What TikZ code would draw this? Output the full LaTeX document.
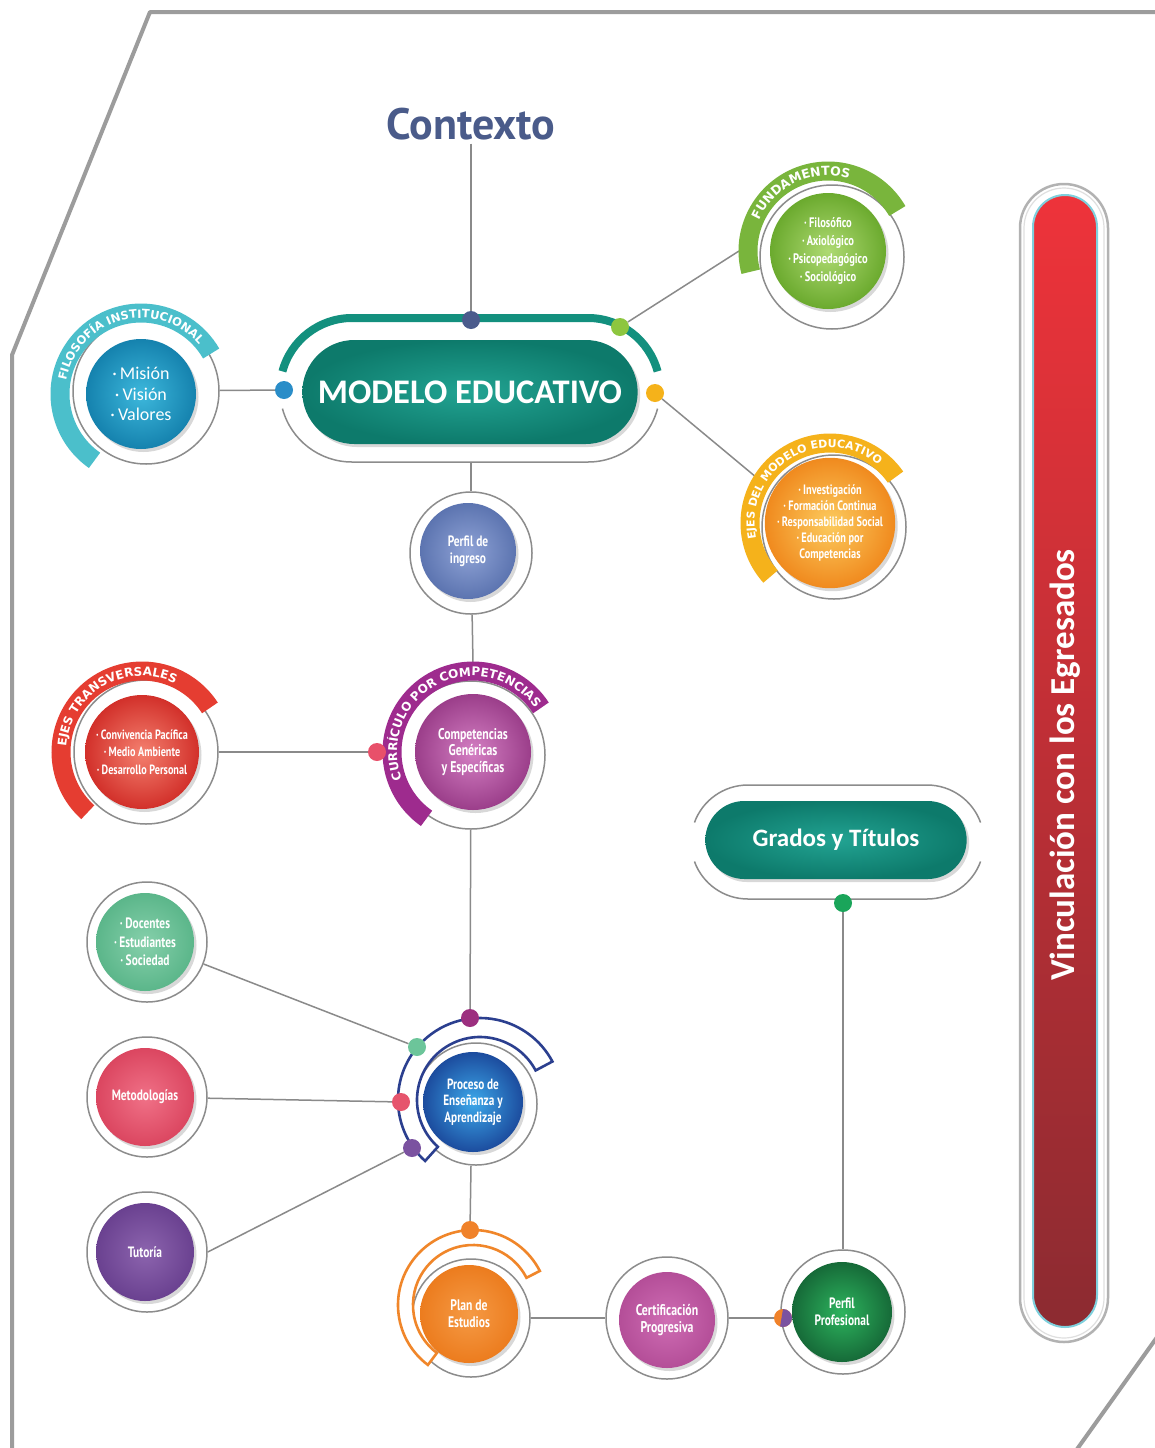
\documentclass[tikz,border=0pt]{standalone}
\usepackage{fontspec}
\setmainfont{PT Sans}
\newfontfamily\cnd[FakeStretch=0.76]{PT Sans}
\newfontfamily\calfont{Carlito}
\newfontfamily\bandfont{DejaVu Sans}
\usetikzlibrary{shapes.misc,shadows,decorations.text,backgrounds}
\newcommand\bndA{\bandfont\bfseries\fontsize{11.5}{11.5}\selectfont}
\newcommand\bndB{\bandfont\bfseries\fontsize{12.5}{12.5}\selectfont}
\newcommand\bndC{\bandfont\bfseries\fontsize{11}{11}\selectfont}
\newcommand\bndD{\bandfont\bfseries\fontsize{12}{12}\selectfont}
\definecolor{framegray}{HTML}{9C9C9C}
\definecolor{conngray}{HTML}{8A8A8A}
\definecolor{ringgray}{HTML}{8C8C8C}
\definecolor{ctxblue}{HTML}{4A5B8A}
\definecolor{tealL}{HTML}{22A392}
\definecolor{tealD}{HTML}{0D7A6B}
\definecolor{tealBand}{HTML}{13907E}
\definecolor{filL}{HTML}{3DB8DC}
\definecolor{filD}{HTML}{1582AE}
\definecolor{filBand}{HTML}{4BBFCB}
\definecolor{funLc}{HTML}{AEDA72}
\definecolor{funDc}{HTML}{6BAA2E}
\definecolor{funBand}{HTML}{79B53C}
\definecolor{ejeLc}{HTML}{FCCB5E}
\definecolor{ejeDc}{HTML}{F08A1E}
\definecolor{ejeBand}{HTML}{F5B21B}
\definecolor{ingLc}{HTML}{8FA3D6}
\definecolor{ingDc}{HTML}{5C74B0}
\definecolor{curLc}{HTML}{D47FC3}
\definecolor{curDc}{HTML}{9B3E8A}
\definecolor{curBand}{HTML}{9E2B8E}
\definecolor{etrLc}{HTML}{F4806F}
\definecolor{etrDc}{HTML}{D2302A}
\definecolor{etrBand}{HTML}{E53D31}
\definecolor{docLc}{HTML}{86D0AB}
\definecolor{docDc}{HTML}{5BB68A}
\definecolor{metLc}{HTML}{F07187}
\definecolor{metDc}{HTML}{DB4660}
\definecolor{tutLc}{HTML}{8C64AE}
\definecolor{tutDc}{HTML}{6A4190}
\definecolor{proLc}{HTML}{3CA8EA}
\definecolor{proDc}{HTML}{1C4C9E}
\definecolor{proBand}{HTML}{2B3F8F}
\definecolor{plaLc}{HTML}{F59A45}
\definecolor{plaDc}{HTML}{EC7C1E}
\definecolor{plaBand}{HTML}{F0862A}
\definecolor{cerLc}{HTML}{CF6DB4}
\definecolor{cerDc}{HTML}{B44E98}
\definecolor{ppLc}{HTML}{2DB45E}
\definecolor{ppDc}{HTML}{166A38}
\definecolor{barTop}{HTML}{EE333A}
\definecolor{barBot}{HTML}{8C2B31}
\definecolor{barEdge}{HTML}{7FD0DD}
\definecolor{dNavy}{HTML}{4B5B8C}
\definecolor{dLime}{HTML}{8DC63F}
\definecolor{dBlue}{HTML}{2A8DC8}
\definecolor{dGold}{HTML}{F5B21A}
\definecolor{dPink}{HTML}{E8506A}
\definecolor{dMag}{HTML}{9C2F7F}
\definecolor{dMint}{HTML}{6CC59A}
\definecolor{dRose}{HTML}{E6556D}
\definecolor{dViol}{HTML}{7B52A0}
\definecolor{dOrg}{HTML}{F0822A}
\definecolor{dGreen}{HTML}{1AA55A}
\begin{document}
\begin{tikzpicture}[x=1pt,y=1pt,
  ring/.style={circle, draw=ringgray, line width=1.5, minimum size=#1, inner sep=0pt},
  shd/.style={drop shadow={opacity=0.3, shadow xshift=2.5pt, shadow yshift=-3pt}},
  disc/.style={circle, minimum size=#1, inner sep=0pt, text=white, align=center, shd},
  dot/.style={circle, fill=#1, minimum size=18, inner sep=0pt},
  conn/.style={draw=conngray, line width=1.5},
  band/.style={line width=19, draw=#1},
  outband/.style={draw=#1, line width=2.6, fill=white},
  lbl/.style={decorate, decoration={text along path, text={#1}, text align=center, text color=white}},
  small/.style={font=\cnd\bfseries\fontsize{15}{17}\selectfont},
  smallb/.style={font=\cnd\bfseries\fontsize{14.8}{16.5}\selectfont},
  pill/.style={rounded rectangle, inner color=tealL, outer color=tealD, text=white, shd},
]
\useasboundingbox (0,0) rectangle (1155,-1448);
\begin{pgfonlayer}{background}
\fill[white] (0,0) rectangle (1155,-1448);
\end{pgfonlayer}
% frame
\draw[framegray, line width=4, line join=round] (1160,-12) -- (150,-12) -- (12,-355) -- (12,-1460);
\draw[framegray, line width=4] (1160,-1333) -- (1075,-1452);

% centres
\coordinate (filC) at (141,-394);
\coordinate (funC) at (828,-251);
\coordinate (ejeC) at (830,-523);
\coordinate (curC) at (473,-752);
\coordinate (etrC) at (142,-752);
\coordinate (proC) at (480,-1100);
\coordinate (plaC) at (473,-1305);
\coordinate (mL) at (352,-390);
\coordinate (mR) at (588,-390);
\coordinate (gL) at (748,-842);
\coordinate (gR) at (927,-842);

% Contexto
\node[font=\bfseries\fontsize{44}{44}\selectfont, text=ctxblue] (ctx) at (471,-124) {Contexto};

% Modelo educativo
\draw[tealBand, line width=8] ([shift={(165:72)}]mL) arc[start angle=165,end angle=90,radius=72] -- ([shift={(90:72)}]mR) arc[start angle=90,end angle=15,radius=72];
\draw[ringgray, line width=1.5] ([shift={(195:72)}]mL) arc[start angle=195,end angle=270,radius=72] -- ([shift={(270:72)}]mR) arc[start angle=270,end angle=345,radius=72];
\node[pill, minimum width=342, minimum height=104, font=\calfont\bfseries\fontsize{34.5}{34.5}\selectfont] (mod) at (470,-392) {MODELO EDUCATIVO};
\coordinate (modB) at (471,-462);
\node[dot=dNavy] (dTop) at (471,-320) {};
\node[dot=dLime] (dLim) at (620,-327) {};
\node[dot=dBlue] (dBlu) at (284,-390) {};
\node[dot=dGold] (dGld) at (655,-393) {};

% Filosofia institucional
\node[ring=146] (filR) at (146,-391) {};
\draw[band=filBand] ([shift={(235:81)}]filC) arc[start angle=235,end angle=30,radius=81];
\path[lbl={|\bndA|FILOSOFÍA INSTITUCIONAL}] ([shift={(190:76)}]filC) arc[start angle=190,end angle=20,radius=76];
\node[disc=110, inner color=filL, outer color=filD, font=\calfont\fontsize{18}{20.5}\selectfont] (fil) at (filC) {·\,Misión\\·\,Visión\\·\,Valores};

% Fundamentos
\node[ring=144] (funR) at (832,-257) {};
\draw[band=funBand] ([shift={(195:80)}]funC) arc[start angle=195,end angle=30,radius=80];
\path[lbl={|\bndB|FUNDAMENTOS}] ([shift={(180:75.5)}]funC) arc[start angle=180,end angle=50,radius=75.5];
\node[disc=116, inner color=funLc, outer color=funDc, font=\cnd\bfseries\fontsize{13.8}{18}\selectfont] (fun) at (funC) {·\,Filosófico\\·\,Axiológico\\·\,Psicopedagógico\\·\,Sociológico};
\coordinate (funEnd) at ([shift={(180:89)}]funC);

% Ejes del modelo educativo
\node[ring=144] (ejeR) at (834,-527) {};
\draw[band=ejeBand] ([shift={(222:80)}]ejeC) arc[start angle=222,end angle=35,radius=80];
\path[lbl={|\bndC|EJES DEL MODELO EDUCATIVO}] ([shift={(210:75.5)}]ejeC) arc[start angle=210,end angle=32,radius=75.5];
\node[disc=118, inner color=ejeLc, outer color=ejeDc, font=\cnd\bfseries\fontsize{13.6}{16}\selectfont] (eje) at (ejeC) {·\,Investigación\\·\,Formación Continua\\·\,Responsabilidad Social\\·\,Educación por\\Competencias};
\coordinate (ejeEnd) at ([shift={(148:89)}]ejeC);

% Perfil de ingreso
\node[ring=122] (ingR) at (471,-553) {};
\node[disc=96, inner color=ingLc, outer color=ingDc, small] (ing) at (468,-551) {Perfil de\\ingreso};

% Curriculo por competencias
\node[ring=148] (curR) at (471,-755) {};
\draw[band=curBand] ([shift={(235:81)}]curC) arc[start angle=235,end angle=33,radius=81];
\path[lbl={|\bndD|CURRÍCULO POR COMPETENCIAS}] ([shift={(215:76)}]curC) arc[start angle=215,end angle=21,radius=76];
\node[disc=116, inner color=curLc, outer color=curDc, font=\cnd\bfseries\fontsize{15.5}{16.5}\selectfont] (cur) at (curC) {Competencias\\Genéricas\\y Específicas};
\coordinate (curTop) at ([shift={(90:89)}]curC);
\node[dot=dPink] (dPnk) at (377,-752) {};

% Ejes transversales
\node[ring=144] (etrR) at (146,-752) {};
\draw[band=etrBand] ([shift={(228:81)}]etrC) arc[start angle=228,end angle=33,radius=81];
\path[lbl={|\bndD|EJES TRANSVERSALES}] ([shift={(190:76)}]etrC) arc[start angle=190,end angle=50,radius=76];
\node[disc=114, inner color=etrLc, outer color=etrDc, font=\cnd\bfseries\fontsize{13.4}{17.5}\selectfont] (etr) at (etrC) {·\,Convivencia Pacífica\\·\,Medio Ambiente\\·\,Desarrollo Personal};

% Left column
\node[ring=120] (docR) at (147,-942) {};
\node[disc=98, inner color=docLc, outer color=docDc, font=\cnd\bfseries\fontsize{15}{18.5}\selectfont] (doc) at (145,-942) {·\,Docentes\\·\,Estudiantes\\·\,Sociedad};
\node[ring=120] (metR) at (147,-1097) {};
\node[disc=98, inner color=metLc, outer color=metDc, small] (met) at (145,-1097) {Metodologías};
\node[ring=120] (tutR) at (147,-1252) {};
\node[disc=98, inner color=tutLc, outer color=tutDc, small] (tut) at (145,-1252) {Tutoría};

% Proceso de ensenanza y aprendizaje
\node[ring=122] (proR) at (476,-1104) {};
\draw[outband=proBand] ([shift={(228:82)}]proC) arc[start angle=228,end angle=28,radius=82] -- ([shift={(28:63)}]proC) arc[start angle=28,end angle=228,radius=63] -- cycle;
\node[disc=100, inner color=proLc, outer color=proDc, smallb] (pro) at (473,-1102) {Proceso de\\Enseñanza y\\Aprendizaje};
\coordinate (proB) at (471,-1166);
\node[dot=dMag] (dMg) at (470,-1018) {};
\node[dot=dMint] (dMt) at (417,-1047) {};
\node[dot=dRose] (dRs) at (401,-1102) {};
\node[dot=dViol] (dVi) at (412,-1148) {};

% Plan de estudios
\node[ring=118] (plaR) at (471,-1318) {};
\draw[outband=plaBand] ([shift={(233:75)}]plaC) arc[start angle=233,end angle=27,radius=75] -- ([shift={(27:60)}]plaC) arc[start angle=27,end angle=233,radius=60] -- cycle;
\node[disc=98, inner color=plaLc, outer color=plaDc, font=\cnd\bfseries\fontsize{15.3}{17}\selectfont] (pla) at (469,-1314) {Plan de\\Estudios};
\node[dot=dOrg] (dOr) at (470,-1230) {};

% Certificacion progresiva
\node[ring=122] (cerR) at (667,-1318) {};
\node[disc=96, inner color=cerLc, outer color=cerDc, font=\cnd\bfseries\fontsize{15.5}{17.5}\selectfont] (cer) at (667,-1320) {Certificación\\Progresiva};

% Perfil profesional
\node[ring=124] (ppR) at (843,-1312) {};
\node[disc=100, inner color=ppLc, outer color=ppDc, font=\cnd\bfseries\fontsize{15}{17.5}\selectfont] (pp) at (842,-1312) {Perfil\\Profesional};
\node[dot=dOrg, path picture={\fill[dViol] (path picture bounding box.north) -- (path picture bounding box.north east) -- (path picture bounding box.south east) -- ([xshift=-3pt]path picture bounding box.south) -- cycle;}] (dSpl) at (783,-1318) {};

% Grados y titulos
\draw[ringgray, line width=1.5] ([shift={(160:57)}]gL) arc[start angle=160,end angle=90,radius=57] -- ([shift={(90:57)}]gR) arc[start angle=90,end angle=20,radius=57];
\draw[ringgray, line width=1.5] ([shift={(200:57)}]gL) arc[start angle=200,end angle=270,radius=57] -- ([shift={(270:57)}]gR) arc[start angle=270,end angle=340,radius=57];
\node[pill, minimum width=268, minimum height=78, font=\calfont\bfseries\fontsize{25}{25}\selectfont] (gra) at (836,-840) {Grados y Títulos};
\node[dot=dGreen] (dGr) at (843,-903) {};

% Vinculacion bar
\node[rectangle, rounded corners=44, minimum width=88, minimum height=1158, draw=gray!60, line width=2.5] (vout) at (1064,-763) {};
\node[rectangle, rounded corners=40, minimum width=80, minimum height=1150, draw=gray!25, line width=1.2] (vmid) at (1064,-763) {};
\node[rectangle, rounded corners=32, minimum width=64, minimum height=1132, top color=barTop, bottom color=barBot, draw=barEdge, line width=2] (vbar) at (1065,-761) {};
\node[rotate=90, text=white, font=\calfont\bfseries\fontsize{35}{35}\selectfont] (vtxt) at (1065,-765) {Vinculación con los Egresados};

% connectors
\begin{pgfonlayer}{background}
\draw[conn] (ctx.south) -- (dTop);
\draw[conn] (filR) -- (dBlu);
\draw[conn] (dLim) -- (funEnd);
\draw[conn] (dGld) -- (ejeEnd);
\draw[conn] (modB) -- (ingR);
\draw[conn] (ingR) -- (curTop);
\draw[conn] (etrR) -- (dPnk);
\draw[conn] (curR) -- (dMg);
\draw[conn] (docR) -- (dMt);
\draw[conn] (metR) -- (dRs);
\draw[conn] (tutR.east) -- (dVi);
\draw[conn] (proB) -- (dOr);
\draw[conn] (plaR) -- (cerR);
\draw[conn] (cerR) -- (dSpl);
\draw[conn] (ppR) -- (dGr);
\end{pgfonlayer}
\end{tikzpicture}
\end{document}
